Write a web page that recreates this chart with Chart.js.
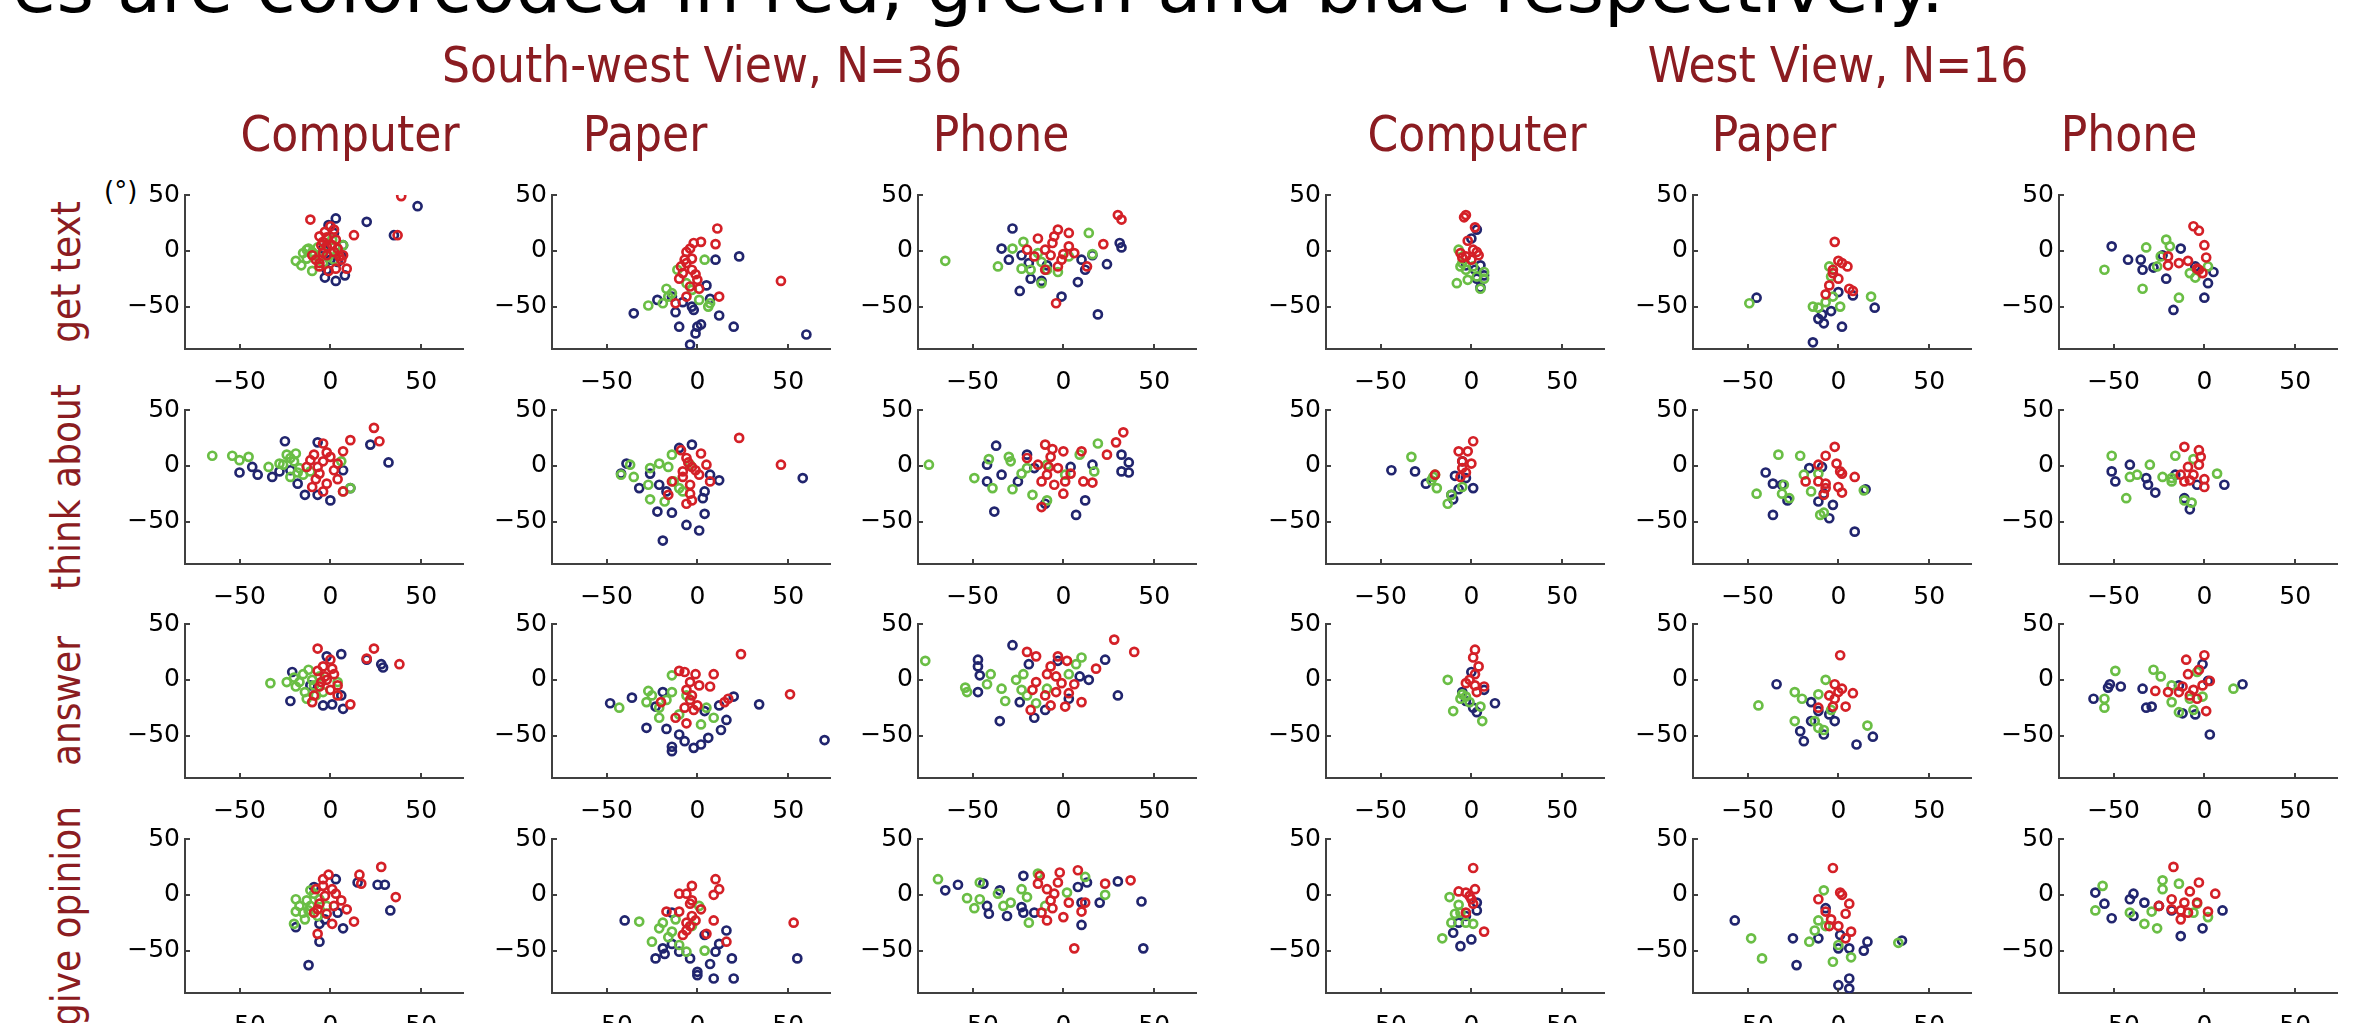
<!DOCTYPE html>
<html>
<head>
<meta charset="utf-8">
<script src="https://cdn.jsdelivr.net/npm/chart.js@4.4.1/dist/chart.umd.min.js"></script>
<style>
    html, body { margin: 0; padding: 0; background: #fff; }
    #page { position: relative; width: 2363px; height: 1023px; overflow: hidden; background: #fff; }
    #page canvas { position: absolute; }
    .txt { position: absolute; white-space: nowrap; line-height: 1; }
    .title { font-family: "DejaVu Sans", sans-serif; font-size: 72px; color: #000; }
    .head { font-family: "DejaVu Sans Condensed", "DejaVu Sans", sans-serif; font-stretch: condensed; font-size: 49px; color: #8b1c21; transform: translateX(-50%); }
    .rowlab { font-family: "DejaVu Sans Condensed", "DejaVu Sans", sans-serif; font-stretch: condensed; font-size: 40px; color: #8b1c21; transform: translate(-50%, -50%) rotate(-90deg); }
    .unit { font-family: "DejaVu Sans", sans-serif; font-size: 26px; color: #000; }
</style>
</head>
<body>
<div id="page"></div>
<script>
// Categories and tick labels
const views = ['South-west View, N=36', 'West View, N=16'];
const devices = ['Computer', 'Paper', 'Phone'];
const tasks = ['get text', 'think about', 'answer', 'give opinion'];
const xTickValues = [-50, 0, 50];
const yTickValues = [-50, 0, 50];

// ---- get text ----
const swComputerGetTextRed = [[39,49],[-11,28],[13,14],[37,14],[9,-16],[3,-16],[-1,-18],[-6,-14],[-10,-4],[0,22],[-3,17],[-6,13],[3,10],[-2,4],[2,-1],[5,-5],[-6,-11],[-2,-4],[1,5],[-4,8],[4,2],[7,-4],[-8,-8],[-4,-2],[-2,12],[2,19],[-5,5],[6,-8]];
const swComputerGetTextGreen = [[-19,-9],[-16,-13],[-10,-18],[-13,1],[-12,2],[7,5],[-9,-4],[-6,-7],[-4,-1],[-1,-5],[2,-8],[4,-2],[-13,-7],[-15,-2],[1,10],[-4,-11],[-10,-1],[-7,3]];
const swComputerGetTextBlue = [[48,40],[20,26],[3,29],[35,14],[-3,-24],[3,-27],[8,-22],[-1,23],[7,5],[6,-4],[0,-8],[-4,2],[-2,-17],[4,-10],[2,16]];

const swPaperGetTextRed = [[11,20],[10,6],[2,8],[-2,7],[46,-27],[12,-41],[-6,-1],[-7,-8],[-9,-14],[-3,-17],[-10,-25],[0,-26],[-4,-32],[-6,-41],[-12,-47],[-3,-7],[-8,-20],[1,-34],[-6,-11],[-4,2],[-1,-21]];
const swPaperGetTextGreen = [[-27,-49],[-17,-34],[-19,-47],[-11,-17],[4,-8],[6,-50],[7,-47],[-14,-38],[-6,-29],[-16,-41],[-3,-35],[1,-44]];
const swPaperGetTextBlue = [[-35,-56],[-22,-44],[-12,-55],[-3,-50],[-10,-68],[2,-66],[-1,-74],[0,-68],[-4,-84],[12,-58],[20,-68],[60,-75],[10,-8],[23,-5],[7,-43],[-8,-46],[-2,-53],[5,-31],[-14,-41]];

const swPhoneGetTextRed = [[30,32],[32,28],[22,6],[13,-14],[-4,-47],[-14,11],[-3,19],[3,16],[-5,13],[-10,1],[-16,-5],[-7,-4],[-1,-8],[-10,-17],[6,-2],[3,4],[-3,-14],[-20,1],[-6,7],[0,-3]];
const swPhoneGetTextGreen = [[-65,-9],[-36,-14],[-22,8],[-28,2],[-23,-16],[-12,-29],[-18,-17],[16,-3],[14,16],[-14,-2],[-9,-17],[-3,-19],[-12,-10],[3,-5]];
const swPhoneGetTextBlue = [[-28,20],[-34,2],[-30,-8],[-24,-36],[-1,-41],[19,-57],[24,-12],[31,7],[32,3],[8,-28],[-18,-25],[-12,-27],[16,-4],[10,-8],[-9,-13],[-23,-4],[-19,-11],[12,-17]];

const wComputerGetTextRed = [[-3,32],[-4,30],[2,21],[-2,9],[-6,-2],[1,1],[4,-4],[-3,-5],[0,-8],[-5,-6],[3,-1]];
const wComputerGetTextGreen = [[-7,1],[-6,-14],[-3,-17],[-8,-29],[-2,-26],[5,-34],[7,-19],[7,-25],[1,-14],[-5,-11],[3,-23]];
const wComputerGetTextBlue = [[3,19],[0,11],[5,-13],[7,-22],[3,-25],[5,-33],[-3,-13],[2,-17]];

const wPaperGetTextRed = [[-2,8],[0,-9],[2,-11],[5,-14],[-3,-20],[0,-25],[-5,-31],[6,-34],[8,-36],[-7,-39],[-3,-17]];
const wPaperGetTextGreen = [[-49,-47],[-5,-14],[-4,-23],[-14,-50],[-11,-51],[1,-50],[18,-41],[-7,-46],[-3,-41]];
const wPaperGetTextBlue = [[-45,-42],[0,-37],[8,-40],[20,-51],[-4,-54],[-11,-61],[-8,-65],[2,-68],[-14,-82],[-9,-57]];

const wPhoneGetTextRed = [[-6,22],[-3,18],[0,5],[1,-6],[-9,-9],[-14,-11],[-20,-5],[-20,-13],[-3,-17],[-1,-20],[-4,-16]];
const wPhoneGetTextGreen = [[-55,-17],[-32,3],[-21,10],[-19,4],[-24,-5],[-26,-14],[-34,-34],[-14,-42],[-8,-20],[-5,-24],[2,-14]];
const wPhoneGetTextBlue = [[-51,4],[-42,-8],[-35,-8],[-34,-17],[-28,-15],[-13,2],[-23,-4],[-21,-25],[-17,-53],[0,-42],[2,-29],[5,-19],[-5,-14]];

// ---- think about ----
const swComputerThinkRed = [[24,34],[27,22],[11,23],[7,13],[-4,20],[-9,10],[-4,4],[4,2],[-13,-1],[-6,-7],[2,-4],[-2,-16],[-10,-19],[-4,-23],[4,-12],[7,-23],[-7,-1],[0,8],[-11,5],[-2,12],[-8,-12]];
const swComputerThinkGreen = [[-65,9],[-54,9],[-50,5],[-45,8],[-34,-1],[-24,10],[-20,4],[-26,1],[-17,-2],[-15,-8],[-22,-10],[6,4],[11,-20],[7,-23],[-19,11],[-11,-5],[-28,2],[-22,7],[-18,-6]];
const swComputerThinkBlue = [[-25,22],[-7,21],[-50,-6],[-43,-1],[-40,-8],[-32,-10],[-28,-5],[-18,-16],[-14,-26],[-7,-26],[0,-31],[7,-4],[22,19],[32,3],[11,-20],[-22,-4]];

const swPaperThinkRed = [[23,25],[46,1],[-9,14],[2,11],[-6,7],[5,1],[-3,-1],[-8,-5],[1,-8],[7,-14],[-4,-17],[-14,-14],[-16,-26],[-4,-25],[-6,-34],[-3,-31],[-8,-10],[-1,-4],[-5,3]];
const swPaperThinkGreen = [[-37,1],[-42,-8],[-35,-10],[-26,-2],[-21,2],[-14,10],[-26,-30],[-18,-32],[-27,-17],[-10,-20],[-13,-14],[-16,-1],[-4,1],[-8,-23]];
const swPaperThinkBlue = [[-3,19],[-10,16],[-39,2],[-42,-7],[-32,-20],[-21,-17],[-22,-41],[-14,-42],[-6,-53],[1,-58],[-19,-67],[4,-43],[3,-29],[4,-23],[12,-13],[-26,-7],[-17,-23],[7,-8],[58,-11]];

const swPhoneThinkRed = [[33,30],[29,21],[24,10],[-10,19],[-6,15],[0,13],[10,13],[-20,7],[-14,1],[-7,8],[-3,-2],[-9,-8],[-12,-14],[1,-14],[11,-14],[16,-15],[0,-25],[-12,-37],[4,-7],[-5,-17],[-8,-1]];
const swPhoneThinkGreen = [[-74,1],[-49,-11],[-41,6],[-39,-20],[-30,8],[-29,4],[-28,-21],[-20,-2],[-17,-26],[-9,-31],[9,10],[17,-5],[19,20],[1,-8],[-23,-7],[-9,1]];
const swPhoneThinkBlue = [[-37,18],[-42,1],[-42,-14],[-38,-41],[-20,10],[-34,-8],[-25,-14],[-10,-34],[12,-31],[7,-44],[32,10],[36,3],[36,-6],[32,-5],[16,1],[4,-1],[-16,-2]];

const wComputerThinkRed = [[1,22],[-7,13],[-2,13],[0,2],[-5,-2],[-3,-6],[-6,-10],[-20,-8],[-5,4]];
const wComputerThinkGreen = [[-33,8],[-20,-8],[-22,-13],[-19,-20],[-5,-19],[-11,-26],[-13,-34],[-21,-10]];
const wComputerThinkBlue = [[-44,-4],[-31,-5],[-25,-16],[-9,-9],[1,-20],[-7,-21],[-11,-26],[-10,-30],[-5,4],[-3,-11]];

const wPaperThinkRed = [[-2,17],[-7,9],[-11,1],[-1,2],[1,-5],[9,-10],[-18,-14],[-11,-14],[-7,-16],[-7,-20],[-8,-26],[2,-24],[0,-19],[2,-7]];
const wPaperThinkGreen = [[-33,10],[-21,9],[-19,-8],[-30,-17],[-31,-25],[-45,-25],[-27,-29],[-15,-23],[-10,-44],[-8,-42],[14,-22],[-11,-7]];
const wPaperThinkBlue = [[-40,-6],[-36,-16],[-31,-17],[-28,-31],[-36,-44],[-16,-2],[-9,-1],[-11,-32],[-3,-35],[-5,-47],[9,-59],[-8,-25],[15,-21]];

const wPhoneThinkRed = [[-11,17],[-3,14],[-2,8],[-3,1],[-9,-1],[-13,-8],[-8,-13],[0,-12],[0,-19],[-11,-14],[-6,-8]];
const wPhoneThinkGreen = [[-51,9],[-41,-10],[-37,-8],[-30,1],[-43,-29],[-23,-10],[-18,-14],[-16,9],[-6,6],[7,-7],[-11,-31],[-7,-33],[-18,-11]];
const wPhoneThinkBlue = [[-51,-5],[-49,-14],[-41,1],[-32,-11],[-31,-17],[-27,-24],[-16,-8],[-11,-29],[-8,-39],[11,-17],[-4,-17]];

// ---- answer ----
const swComputerAnswerRed = [[-7,28],[24,28],[20,19],[38,14],[0,18],[-4,12],[-7,8],[2,5],[-2,0],[4,-5],[0,-9],[-6,-6],[-9,-14],[-10,-20],[11,-22],[4,-14],[-3,3],[1,10],[-5,-2]];
const swComputerAnswerGreen = [[-33,-3],[-24,-2],[-20,2],[-12,9],[-17,-2],[-14,-11],[-9,-5],[-6,3],[4,-2],[-4,-11],[-13,-17],[-8,-14],[-19,-6],[-10,0],[-15,5]];
const swComputerAnswerBlue = [[-21,7],[-2,21],[6,23],[20,18],[28,14],[29,11],[-22,-19],[-4,-23],[1,-22],[7,-26],[6,-14],[-11,-5]];

const swPaperAnswerRed = [[24,23],[51,-13],[-10,8],[-7,7],[-1,5],[9,5],[-4,-2],[1,-5],[7,-6],[-6,-9],[-3,-14],[-20,-20],[15,-20],[17,-17],[0,-23],[-7,-25],[-12,-34],[-6,-39],[-2,-27],[-4,-18]];
const swPaperAnswerGreen = [[-43,-25],[-27,-10],[-28,-20],[-21,-25],[-14,-11],[-14,4],[-6,-14],[2,-40],[9,-34],[5,-25],[-21,-34],[-17,-18],[-10,-31],[-25,-14]];
const swPaperAnswerBlue = [[-48,-21],[-36,-16],[-28,-43],[-17,-44],[-19,-11],[-14,-60],[-14,-64],[-7,-55],[-2,-61],[2,-58],[6,-52],[13,-45],[16,-36],[12,-23],[20,-15],[34,-22],[70,-54],[-10,-49],[4,-28],[-23,-24]];

const swPhoneAnswerRed = [[28,36],[39,25],[-20,25],[-15,21],[-3,21],[2,17],[-7,12],[18,10],[-9,5],[-15,-2],[6,-4],[-1,-3],[-17,-9],[-4,-11],[3,-12],[10,-20],[1,-24],[-7,-23],[-18,-27],[-10,-14],[-4,3]];
const swPhoneAnswerGreen = [[-76,17],[-54,-7],[-53,-11],[-40,5],[-42,-4],[-34,-8],[-32,-19],[-26,0],[-23,-9],[-20,-14],[-15,-21],[10,20],[7,14],[3,5],[-22,5],[-9,-8]];
const swPhoneAnswerBlue = [[-28,31],[-47,18],[-47,12],[-46,4],[-47,-11],[-35,-37],[-24,-20],[-19,14],[-10,-27],[-16,-34],[9,3],[14,0],[23,18],[30,-14],[-3,17],[3,-17]];

const wComputerAnswerRed = [[2,27],[1,20],[4,12],[2,5],[-3,-3],[2,-5],[7,-6],[3,-11],[-1,0]];
const wComputerAnswerGreen = [[-13,0],[-5,-13],[-3,-15],[-6,-17],[-10,-28],[5,-24],[6,-37],[-1,-20]];
const wComputerAnswerBlue = [[0,7],[7,-9],[13,-21],[1,-25],[3,-29],[-3,-19],[-5,-11]];

const wPaperAnswerRed = [[1,22],[-2,-4],[0,-11],[8,-12],[-11,-25],[-3,-24],[4,-24],[-5,-14],[-2,-17],[2,-8]];
const wPaperAnswerGreen = [[-7,0],[-24,-11],[-20,-17],[-11,-13],[-44,-23],[-24,-37],[-13,-37],[-11,-43],[-8,-45],[16,-41],[-4,-27]];
const wPaperAnswerBlue = [[-34,-4],[-15,-20],[-11,-28],[-15,-37],[-21,-46],[-19,-55],[-8,-49],[-2,-37],[10,-58],[19,-51],[-5,-31]];

const wPhoneAnswerRed = [[0,22],[-10,18],[-3,9],[-9,5],[3,-1],[-12,-6],[-1,-5],[-14,-11],[-20,-11],[-27,-10],[-8,-14],[-4,-17],[1,-28],[-6,-9]];
const wPhoneAnswerGreen = [[-49,8],[-55,-17],[-55,-25],[-28,9],[-24,3],[-18,-5],[-18,-20],[-4,7],[-1,-15],[16,-8],[-14,-29],[-6,-27],[-8,-17]];
const wPhoneAnswerBlue = [[-1,14],[2,-1],[21,-4],[-52,-4],[-53,-7],[-61,-17],[-46,-6],[-34,-8],[-32,-25],[-29,-24],[-12,-30],[-5,-31],[3,-49],[-14,-5]];

// ---- give opinion ----
const swComputerOpinionRed = [[28,25],[16,18],[17,10],[36,-2],[-1,18],[-4,14],[-8,5],[1,5],[-3,-1],[6,-5],[9,-13],[2,-10],[-6,-8],[-9,-16],[1,-26],[13,-24],[-7,-35],[-7,-13],[-2,-17],[-4,8],[3,1]];
const swComputerOpinionGreen = [[-19,-4],[-19,-15],[-20,-26],[-14,-22],[-11,-10],[-9,1],[-13,-5],[-6,-4],[-2,-10],[-15,-16],[-7,-19],[-11,4],[-17,-10],[-12,-14]];
const swComputerOpinionBlue = [[3,14],[15,11],[26,9],[30,9],[33,-14],[7,-30],[-6,-42],[-12,-63],[-19,-29],[-6,-26],[-3,-22],[4,-16],[-9,7]];

const swPaperOpinionRed = [[10,14],[12,5],[9,0],[-3,8],[-10,1],[-6,1],[-17,-15],[-10,-15],[-4,-8],[2,-13],[-3,-19],[-6,-25],[-1,-23],[9,-23],[5,-35],[-6,-32],[16,-42],[53,-25],[-3,-5],[-8,-36],[-4,-28]];
const swPaperOpinionGreen = [[-32,-24],[-25,-42],[-21,-30],[-19,-25],[-14,-33],[-10,-45],[-6,-51],[4,-50],[1,-10],[-12,-22],[-3,-28],[-16,-38]];
const swPaperOpinionBlue = [[-40,-23],[-23,-57],[-18,-53],[-19,-48],[-4,-57],[0,-69],[0,-72],[9,-75],[20,-75],[19,-57],[7,-62],[10,-51],[12,-44],[16,-32],[4,-36],[-14,-44],[55,-57],[-10,-51],[-14,-16]];

const swPhoneOpinionRed = [[8,22],[-2,20],[-13,17],[37,13],[23,10],[-14,10],[-9,5],[-5,1],[3,-7],[12,-7],[-12,-16],[10,-15],[0,-20],[-9,-23],[6,-48],[-7,-5],[-3,11],[-6,-12]];
const swPhoneOpinionGreen = [[-69,14],[-53,-3],[-49,-12],[-46,11],[-46,-4],[-36,1],[-33,-10],[-29,-7],[-23,5],[-19,-25],[-14,19],[2,2],[23,0],[12,16],[-20,-2],[-10,-10]];
const swPhoneOpinionBlue = [[-65,4],[-58,9],[-44,10],[-22,17],[-42,-10],[-41,-17],[-31,-19],[-35,4],[-23,-11],[-16,-16],[8,7],[13,11],[20,-7],[30,12],[10,-27],[43,-6],[44,-48],[10,-7],[-22,-16]];

const wComputerOpinionRed = [[1,24],[2,5],[-7,3],[-3,2],[0,-4],[1,-8],[-3,-16],[7,-33],[-1,-1]];
const wComputerOpinionGreen = [[-12,-2],[-7,-9],[-9,-17],[-11,-25],[-16,-39],[-6,-16],[1,-26],[-3,-25]];
const wComputerOpinionBlue = [[3,-7],[3,-14],[-7,-25],[-10,-34],[-6,-46],[0,-40],[-3,-19]];

const wPaperOpinionRed = [[-3,24],[1,2],[2,0],[-11,-4],[6,-8],[-7,-15],[4,-17],[-5,-28],[0,-28],[7,-33],[4,-39],[-4,-22]];
const wPaperOpinionGreen = [[-48,-39],[-42,-57],[-16,-42],[-13,-32],[-11,-23],[-8,4],[7,-56],[-3,-60],[0,-45],[33,-43],[-7,-28]];
const wPaperOpinionBlue = [[-57,-23],[-25,-39],[-23,-63],[-11,-39],[-7,-12],[1,-36],[0,-48],[6,-48],[14,-50],[16,-42],[0,-81],[6,-75],[6,-84],[35,-41]];

const wPhoneOpinionRed = [[-17,25],[-3,11],[-8,3],[6,1],[-18,-4],[-25,-10],[-4,-7],[-11,-7],[-13,-14],[-9,-16],[2,-15],[-13,-22],[-18,-13]];
const wPhoneOpinionGreen = [[-56,8],[-60,-14],[-41,-16],[-33,-26],[-26,-30],[-23,13],[-23,5],[-14,10],[-29,-15],[-4,-8],[2,-20],[-6,-16]];
const wPhoneOpinionBlue = [[-60,2],[-55,-8],[-51,-21],[-39,1],[-41,-4],[-39,-19],[-33,-7],[-25,-10],[-13,-37],[-1,-30],[10,-14],[-18,-14]];

// rows = tasks, columns = SW Computer/Paper/Phone, W Computer/Paper/Phone; each cell [red, green, blue]
const grid = [
    [[swComputerGetTextRed, swComputerGetTextGreen, swComputerGetTextBlue], [swPaperGetTextRed, swPaperGetTextGreen, swPaperGetTextBlue], [swPhoneGetTextRed, swPhoneGetTextGreen, swPhoneGetTextBlue],
     [wComputerGetTextRed, wComputerGetTextGreen, wComputerGetTextBlue], [wPaperGetTextRed, wPaperGetTextGreen, wPaperGetTextBlue], [wPhoneGetTextRed, wPhoneGetTextGreen, wPhoneGetTextBlue]],
    [[swComputerThinkRed, swComputerThinkGreen, swComputerThinkBlue], [swPaperThinkRed, swPaperThinkGreen, swPaperThinkBlue], [swPhoneThinkRed, swPhoneThinkGreen, swPhoneThinkBlue],
     [wComputerThinkRed, wComputerThinkGreen, wComputerThinkBlue], [wPaperThinkRed, wPaperThinkGreen, wPaperThinkBlue], [wPhoneThinkRed, wPhoneThinkGreen, wPhoneThinkBlue]],
    [[swComputerAnswerRed, swComputerAnswerGreen, swComputerAnswerBlue], [swPaperAnswerRed, swPaperAnswerGreen, swPaperAnswerBlue], [swPhoneAnswerRed, swPhoneAnswerGreen, swPhoneAnswerBlue],
     [wComputerAnswerRed, wComputerAnswerGreen, wComputerAnswerBlue], [wPaperAnswerRed, wPaperAnswerGreen, wPaperAnswerBlue], [wPhoneAnswerRed, wPhoneAnswerGreen, wPhoneAnswerBlue]],
    [[swComputerOpinionRed, swComputerOpinionGreen, swComputerOpinionBlue], [swPaperOpinionRed, swPaperOpinionGreen, swPaperOpinionBlue], [swPhoneOpinionRed, swPhoneOpinionGreen, swPhoneOpinionBlue],
     [wComputerOpinionRed, wComputerOpinionGreen, wComputerOpinionBlue], [wPaperOpinionRed, wPaperOpinionGreen, wPaperOpinionBlue], [wPhoneOpinionRed, wPhoneOpinionGreen, wPhoneOpinionBlue]]
];

// Styling / layout
const seriesColors = ['#d42027', '#6abe45', '#21256e'];
const axisColor = '#404040';
const colLefts = [185, 552, 918, 1326, 1693, 2059];
const rowTops = [195, 410, 624, 839];
const plotW = 278, plotH = 154;
const padLeft = 100, padTop = 20, padRight = 20, padBottom = 50;

const page = document.getElementById('page');

const addText = (cls, text, left, top, right) => {
    const el = document.createElement('div');
    el.className = 'txt ' + cls;
    el.textContent = text;
    if (right !== undefined) el.style.right = right + 'px';
    else el.style.left = left + 'px';
    el.style.top = top + 'px';
    page.appendChild(el);
    return el;
};

// Header texts
addText('title', 'es are colorcoded in red, green and blue respectively.', 0, -49, 2363 - 1944);
addText('head', views[0], 702, 41);
addText('head', views[1], 1838, 41);
const headerCenters = [350, 645, 1001, 1477, 1774, 2129];
headerCenters.forEach((cx, i) => addText('head', devices[i % 3], cx, 110));
tasks.forEach((t, r) => addText('rowlab', t, 66, rowTops[r] + plotH / 2));
addText('unit', '(°)', 104, 178);

const fmtTick = v => (v < 0 ? '\u2212' + Math.abs(v) : String(v));

const inwardTicks = {
    id: 'inwardTicks',
    afterDraw(chart) {
        const { ctx, chartArea, scales: { x, y } } = chart;
        ctx.save();
        ctx.strokeStyle = axisColor;
        ctx.lineWidth = 2;
        ctx.beginPath();
        x.ticks.forEach(t => {
            const px = Math.round(x.getPixelForValue(t.value));
            ctx.moveTo(px, chartArea.bottom);
            ctx.lineTo(px, chartArea.bottom - 5);
        });
        y.ticks.forEach(t => {
            const py = Math.round(y.getPixelForValue(t.value));
            ctx.moveTo(chartArea.left, py);
            ctx.lineTo(chartArea.left + 5, py);
        });
        ctx.stroke();
        ctx.restore();
    }
};

const makePanel = (row, col, series) => {
    const canvas = document.createElement('canvas');
    const w = plotW + padLeft + padRight;
    const h = plotH + padTop + padBottom;
    canvas.width = w;
    canvas.height = h;
    canvas.style.width = w + 'px';
    canvas.style.height = h + 'px';
    canvas.style.left = (colLefts[col] - padLeft) + 'px';
    canvas.style.top = (rowTops[row] - padTop) + 'px';
    page.appendChild(canvas);

    const datasets = series.map((pts, i) => ({
        data: pts.map(([x, y]) => ({ x, y })),
        borderColor: seriesColors[i],
        backgroundColor: 'rgba(0,0,0,0)',
        pointRadius: 4,
        borderWidth: 2.7,
        pointBorderWidth: 2.7,
        pointHoverRadius: 4
    }));

    new Chart(canvas.getContext('2d'), {
        type: 'scatter',
        data: { datasets },
        options: {
            responsive: false,
            animation: false,
            events: [],
            devicePixelRatio: 1,
            layout: { padding: { top: padTop, right: padRight, left: 0, bottom: 0 } },
            plugins: { legend: { display: false }, tooltip: { enabled: false } },
            scales: {
                x: {
                    type: 'linear',
                    min: -80,
                    max: 73,
                    afterBuildTicks: s => { s.ticks = xTickValues.map(v => ({ value: v })); },
                    afterFit: s => { s.height = padBottom; },
                    grid: { display: false, drawTicks: false },
                    border: { display: true, color: axisColor, width: 2 },
                    ticks: { autoSkip: false, maxRotation: 0, padding: 18, color: '#000', font: { family: 'DejaVu Sans', size: 25 }, callback: fmtTick }
                },
                y: {
                    type: 'linear',
                    min: -88,
                    max: 50,
                    afterBuildTicks: s => { s.ticks = yTickValues.map(v => ({ value: v })); },
                    afterFit: s => { s.width = padLeft; },
                    grid: { display: false, drawTicks: false },
                    border: { display: true, color: axisColor, width: 2 },
                    ticks: { autoSkip: false, padding: 5, color: '#000', font: { family: 'DejaVu Sans', size: 25 }, callback: fmtTick }
                }
            }
        },
        plugins: [inwardTicks]
    });
};

grid.forEach((cells, r) => cells.forEach((series, c) => makePanel(r, c, series)));
</script>
</body>
</html>
